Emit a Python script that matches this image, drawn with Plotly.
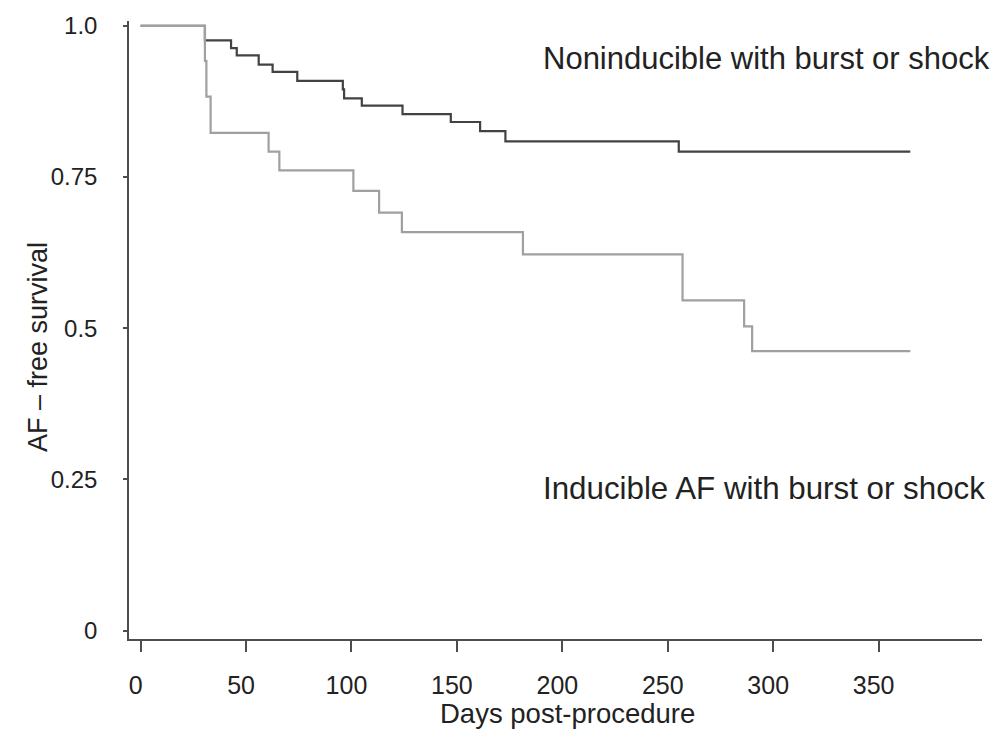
import plotly.graph_objects as go

# Kaplan-Meier step data
nonind_days = [0, 30.5, 42.9, 45.6, 56.0, 62.6, 74.3, 95.9, 96.5, 104.9, 124.2, 147.1, 161.0, 173.0, 255.2, 365]
nonind_surv = [1.0, 0.976, 0.963, 0.951, 0.936, 0.924, 0.909, 0.895, 0.880, 0.868, 0.854, 0.841, 0.826, 0.809, 0.792, 0.792]

ind_days = [0, 30.5, 31.2, 33.2, 60.7, 65.8, 100.9, 113.1, 123.9, 181.3, 257.0, 286.2, 290.0, 365]
ind_surv = [1.0, 0.942, 0.883, 0.823, 0.792, 0.761, 0.727, 0.691, 0.659, 0.622, 0.546, 0.503, 0.462, 0.462]

x_ticks = [0, 50, 100, 150, 200, 250, 300, 350]
y_ticks = [0, 0.25, 0.5, 0.75, 1.0]
y_tick_text = ["0", "0.25", "0.5", "0.75", "1.0"]

FONT = "Liberation Sans, Arial, sans-serif"
AXIS_COLOR = "#4d4d4d"
TEXT_COLOR = "#222222"

fig = go.Figure()
fig.add_trace(go.Scatter(x=nonind_days, y=nonind_surv, mode="lines",
                         line=dict(shape="hv", color="#424242", width=2.2),
                         name="Noninducible", showlegend=False, hoverinfo="skip"))
fig.add_trace(go.Scatter(x=ind_days, y=ind_surv, mode="lines",
                         line=dict(shape="hv", color="#a0a0a0", width=2.2),
                         name="Inducible", showlegend=False, hoverinfo="skip"))

fig.update_layout(
    width=1002, height=730,
    margin=dict(l=129, r=20, t=18, b=91),
    paper_bgcolor="white", plot_bgcolor="white",
    font=dict(family=FONT, color=TEXT_COLOR),
    xaxis=dict(range=[-5.5, 399], tickvals=x_ticks, showgrid=False, zeroline=False,
               showline=True, linecolor=AXIS_COLOR, linewidth=1.5,
               ticks="outside", ticklen=11, tickwidth=1.5, tickcolor=AXIS_COLOR,
               tickfont=dict(size=25, family=FONT, color=TEXT_COLOR),
               ticklabelshift=-5, ticklabelstandoff=12),
    yaxis=dict(range=[-0.014, 1.008], tickvals=y_ticks, ticktext=y_tick_text,
               showgrid=False, zeroline=False,
               showline=True, linecolor=AXIS_COLOR, linewidth=1.5,
               ticks="outside", ticklen=4, tickwidth=1.5, tickcolor=AXIS_COLOR,
               tickfont=dict(size=24, family=FONT, color=TEXT_COLOR),
               ticklabelstandoff=21),
    annotations=[
        dict(text="Noninducible with burst or shock", x=190, y=0.946, xref="x", yref="y",
             xanchor="left", yanchor="middle", showarrow=False,
             font=dict(size=31, family=FONT, color=TEXT_COLOR)),
        dict(text="Inducible AF with burst or shock", x=190, y=0.2344, xref="x", yref="y",
             xanchor="left", yanchor="middle", showarrow=False,
             font=dict(size=31.3, family=FONT, color=TEXT_COLOR)),
        dict(text="Days post-procedure", x=0.5137, y=-0.1203, xref="paper", yref="paper",
             xanchor="center", yanchor="middle", showarrow=False,
             font=dict(size=27.5, family=FONT, color=TEXT_COLOR)),
        dict(text="AF – free survival", x=-0.1067, y=0.4723, xref="paper", yref="paper",
             xanchor="center", yanchor="middle", showarrow=False, textangle=-90,
             font=dict(size=27, family=FONT, color=TEXT_COLOR)),
    ],
)

fig.write_html("out.html", config={"displayModeBar": False},
               post_script="document.body.style.margin='0';document.body.style.padding='0';")
